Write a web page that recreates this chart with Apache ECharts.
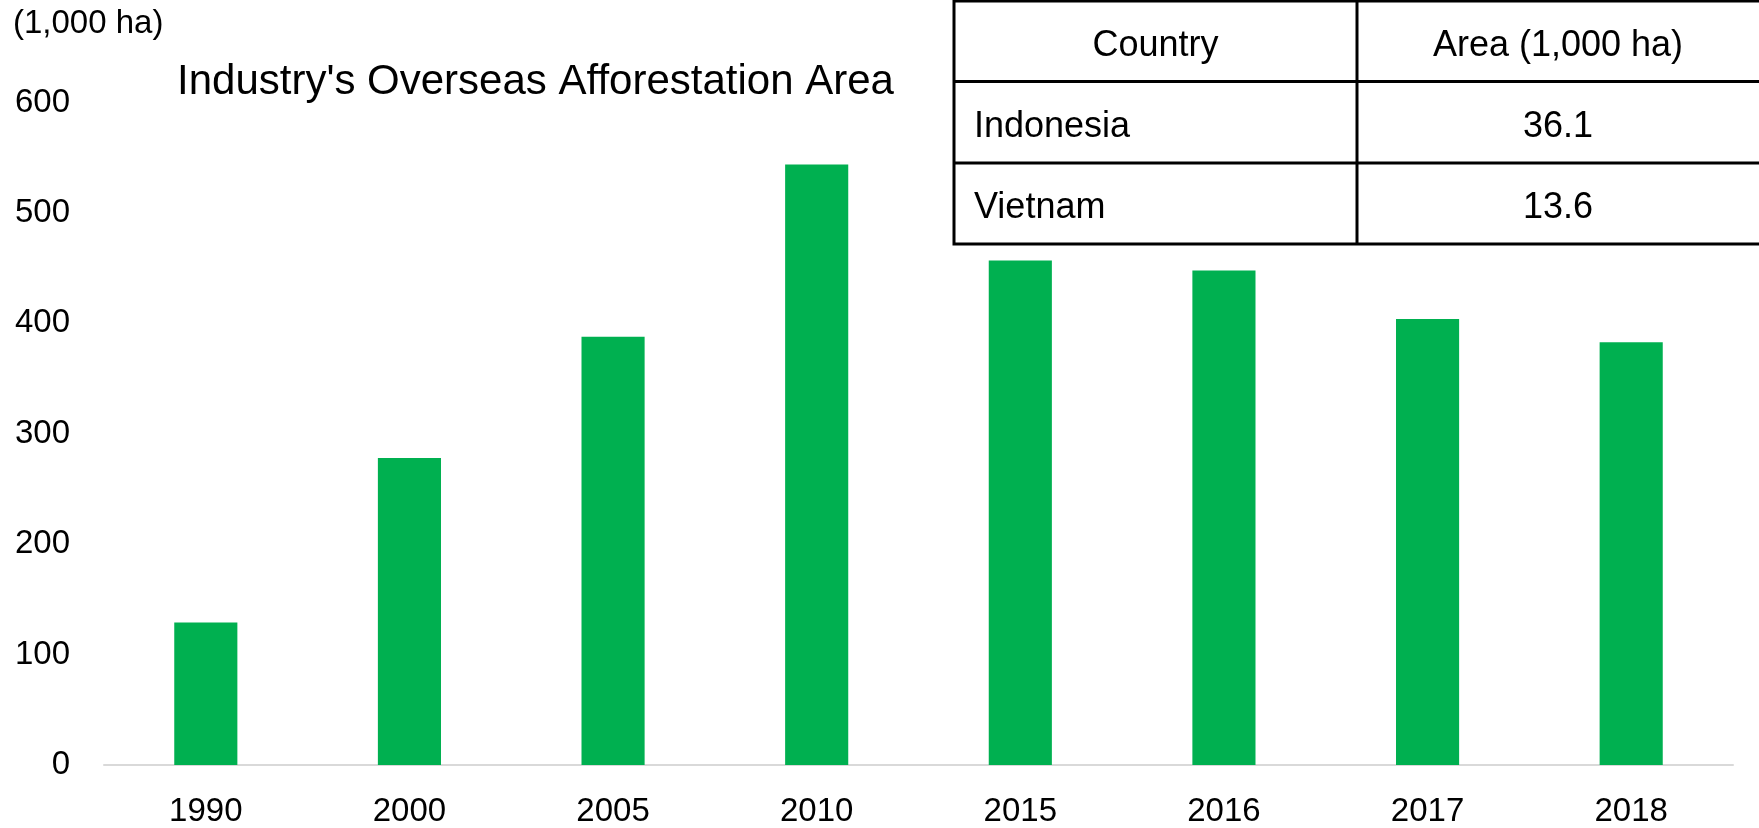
<!DOCTYPE html>
<html>
<head>
<meta charset="utf-8">
<title>Industry's Overseas Afforestation Area</title>
<script src="https://cdn.jsdelivr.net/npm/echarts@6/dist/echarts.min.js"></script>
<style>
    html, body { margin: 0; padding: 0; background: #fff; }
    #afforestation_bar { width: 1759px; height: 828px; }
</style>
</head>
<body>
<div id="afforestation_bar"></div>
<script>
// data
const years = ['1990', '2000', '2005', '2010', '2015', '2016', '2017', '2018']
const areaValues = [129, 278, 388, 544, 457, 448, 404, 383]
const yTicks = [0, 100, 200, 300, 400, 500, 600]

// small table in the top right corner
const tableHeader = ['Country', 'Area (1,000 ha)']
const tableCountries = ['Indonesia', 'Vietnam']
const tableAreas = ['36.1', '13.6']

const chart = echarts.init(document.getElementById('afforestation_bar'))

// table geometry
const tLeft = 954, tMid = 1357, tRight = 1761
const rowLines = [1, 81.5, 163, 244]
const textShift = 5
const tFont = '36px "Liberation Sans", Arial, sans-serif'

function buildTable() {
    let els = []
    els.push({
        type: 'rect', z: 10,
        shape: { x: tLeft, y: rowLines[0], width: tRight - tLeft, height: rowLines[3] - rowLines[0] },
        style: { fill: '#fff', stroke: '#000', lineWidth: 3 }
    })
    for (let i = 1; i < rowLines.length - 1; i++) {
        els.push({
            type: 'line', z: 11,
            shape: { x1: tLeft, y1: rowLines[i], x2: tRight, y2: rowLines[i] },
            style: { stroke: '#000', lineWidth: 3 }
        })
    }
    els.push({
        type: 'line', z: 11,
        shape: { x1: tMid, y1: 0, x2: tMid, y2: rowLines[3] },
        style: { stroke: '#000', lineWidth: 3 }
    })
    // header
    let hy = (rowLines[0] + rowLines[1]) / 2 + textShift
    els.push({
        type: 'text', z: 12, x: (tLeft + tMid) / 2, y: hy,
        style: { text: tableHeader[0], font: tFont, fill: '#000', align: 'center', verticalAlign: 'middle' }
    })
    els.push({
        type: 'text', z: 12, x: (tMid + 1759) / 2, y: hy,
        style: { text: tableHeader[1], font: tFont, fill: '#000', align: 'center', verticalAlign: 'middle' }
    })
    // rows
    tableCountries.forEach((c, i) => {
        let cy = (rowLines[i + 1] + rowLines[i + 2]) / 2 + textShift
        els.push({
            type: 'text', z: 12, x: 974, y: cy,
            style: { text: c, font: tFont, fill: '#000', align: 'left', verticalAlign: 'middle' }
        })
        els.push({
            type: 'text', z: 12, x: (tMid + 1759) / 2, y: cy,
            style: { text: tableAreas[i], font: tFont, fill: '#000', align: 'center', verticalAlign: 'middle' }
        })
    })
    return els
}

const option = {
    animation: false,
    backgroundColor: '#fff',
    title: {
        text: "Industry's Overseas Afforestation Area",
        left: 177,
        top: 60,
        padding: 0,
        textStyle: {
            fontFamily: '"Liberation Sans", Arial, sans-serif',
            fontSize: 42,
            fontWeight: 'normal',
            color: '#000',
            lineHeight: 44
        }
    },
    grid: {
        left: 104,
        right: 26,
        top: 102.6,
        bottom: 63,
        containLabel: false
    },
    xAxis: {
        type: 'category',
        data: years,
        axisLine: { //x轴线
            show: true,
            lineStyle: { color: '#d9d9d9', width: 2 }
        },
        axisTick: { show: false },
        axisLabel: {
            margin: 30,
            color: '#000',
            fontSize: 33,
            fontFamily: '"Liberation Sans", Arial, sans-serif'
        }
    },
    yAxis: {
        type: 'value',
        min: yTicks[0],
        max: yTicks[yTicks.length - 1],
        interval: yTicks[1] - yTicks[0],
        splitLine: { show: false },
        axisLine: { show: false },
        axisTick: { show: false },
        axisLabel: {
            margin: 34,
            color: '#000',
            fontSize: 33,
            fontFamily: '"Liberation Sans", Arial, sans-serif'
        }
    },
    series: [{
        name: 'Area',
        type: 'bar',
        data: areaValues,
        barWidth: '31%',
        itemStyle: { color: '#00b050' }
    }],
    graphic: [
        {
            type: 'text', x: 13, y: 23.5,
            style: {
                text: '(1,000 ha)',
                font: '33px "Liberation Sans", Arial, sans-serif',
                fill: '#000',
                verticalAlign: 'middle'
            }
        }
    ].concat(buildTable())
}

chart.setOption(option)
window.addEventListener('resize', function () {
    chart.resize()
})
</script>
</body>
</html>
